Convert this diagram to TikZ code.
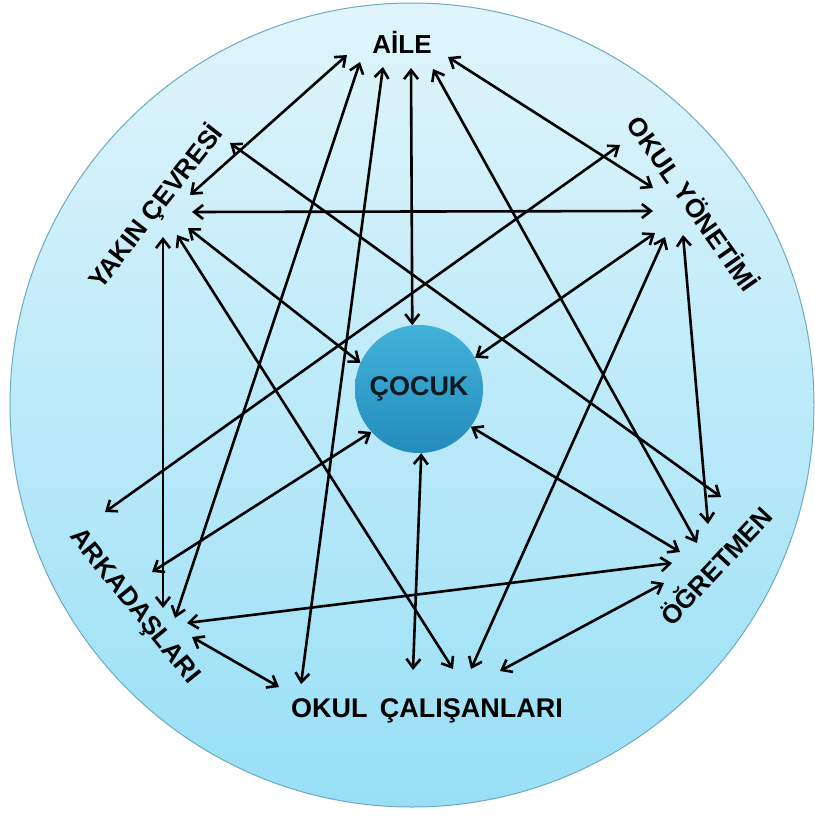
\documentclass[tikz,border=0pt]{standalone}
\usepackage{fontspec}
\setmainfont{Liberation Sans}
\usetikzlibrary{arrows.meta}
\definecolor{bgtop}{RGB}{224,245,251}
\definecolor{bgbot}{RGB}{152,223,246}
\definecolor{bgedge}{RGB}{110,170,192}
\definecolor{ctop}{RGB}{66,178,218}
\definecolor{cbot}{RGB}{36,140,188}
\begin{document}
\begin{tikzpicture}[x=1pt,y=-1pt,
  lbl/.style={font=\fontsize{26}{26}\selectfont\bfseries, text=black, inner sep=0pt},
  arr/.style={{Straight Barb[length=9pt,width=14pt]}-{Straight Barb[length=9pt,width=14pt]}, line width=2.6pt, black},
]
\useasboundingbox (0,0) rectangle (814,816);
\fill[white] (0,0) rectangle (814,816);
\shade[top color=bgtop, bottom color=bgbot, draw=bgedge, line width=1pt] (412,405) circle (402pt);

% labels
\node[lbl] (aile) at (402,42) {AİLE};
\node[lbl, rotate=52] (yakin) at (156,207) {YAKIN ÇEVRESİ};
\node[lbl, rotate=-55] (okyon) at (694,203) {OKUL YÖNETİMİ};
\node[lbl, rotate=-51] (ark) at (134,607) {ARKADAŞLARI};
\node[lbl, rotate=47] (ogr) at (715,565) {ÖĞRETMEN};
\node[lbl, font=\fontsize{27}{27}\selectfont\bfseries] (okcal) at (427,711) {OKUL\hspace{0.45em}ÇALIŞANLARI};

% center
\node[circle, minimum size=128pt, inner sep=0pt, top color=ctop, bottom color=cbot,
      font=\fontsize{27}{27}\selectfont\bfseries, text={rgb,255:red,16;green,24;blue,32}] (cocuk) at (419,389) {ÇOCUK};

% AİLE ends
\coordinate (a1) at (347,55);
\coordinate (a2) at (360,62);
\coordinate (a3) at (383,67);
\coordinate (a4) at (411,68);
\coordinate (a5) at (433,69);
\coordinate (a6) at (448,57);
% YAKIN ÇEVRESİ ends
\coordinate (y1) at (190,195);
\coordinate (y2) at (230,143);
\coordinate (y3) at (192,212);
\coordinate (y4) at (188,228);
\coordinate (y5) at (177,235);
\coordinate (y6) at (163,237);
% OKUL YÖNETİMİ ends
\coordinate (o1) at (620,145);
\coordinate (o2) at (653,188);
\coordinate (o3) at (653,211);
\coordinate (o4) at (655,233);
\coordinate (o5) at (665,237);
\coordinate (o6) at (683,235);
% ARKADAŞLARI ends
\coordinate (k1) at (105,512);
\coordinate (k2) at (152,572);
\coordinate (k3) at (163,608);
\coordinate (k4) at (175,618);
\coordinate (k5) at (187,623);
\coordinate (k6) at (192,637);
% ÖĞRETMEN ends
\coordinate (g1) at (721,497);
\coordinate (g2) at (708,524);
\coordinate (g3) at (697,543);
\coordinate (g4) at (680,552);
\coordinate (g5) at (672,563);
\coordinate (g6) at (664,583);
% OKUL ÇALIŞANLARI ends
\coordinate (c1) at (279,687);
\coordinate (c2) at (301,684);
\coordinate (c3) at (413,670);
\coordinate (c4) at (453,669);
\coordinate (c5) at (471,669);
\coordinate (c6) at (500,671);

% connectors
\draw[arr] (a1) -- (y1);
\draw[arr] (a2) -- (k4);
\draw[arr] (a3) -- (c2);
\draw[arr] (a4) -- (cocuk.96);
\draw[arr] (a5) -- (g3);
\draw[arr] (a6) -- (o2);
\draw[arr] (y2) -- (g1);
\draw[arr] (y3) -- (o3);
\draw[arr] (y4) -- (cocuk.156);
\draw[arr] (y5) -- (c4);
\draw[arr] (y6) -- (k3);
\draw[arr] (o1) -- (k1);
\draw[arr] (o4) -- (cocuk.29);
\draw[arr] (o5) -- (c5);
\draw[arr] (o6) -- (g2);
\draw[arr] (k2) -- (cocuk.222);
\draw[arr] (k5) -- (g5);
\draw[arr] (k6) -- (c1);
\draw[arr] (cocuk.324) -- (g4);
\draw[arr] (cocuk.272) -- (c3);
\draw[arr] (g6) -- (c6);
\end{tikzpicture}
\end{document}
